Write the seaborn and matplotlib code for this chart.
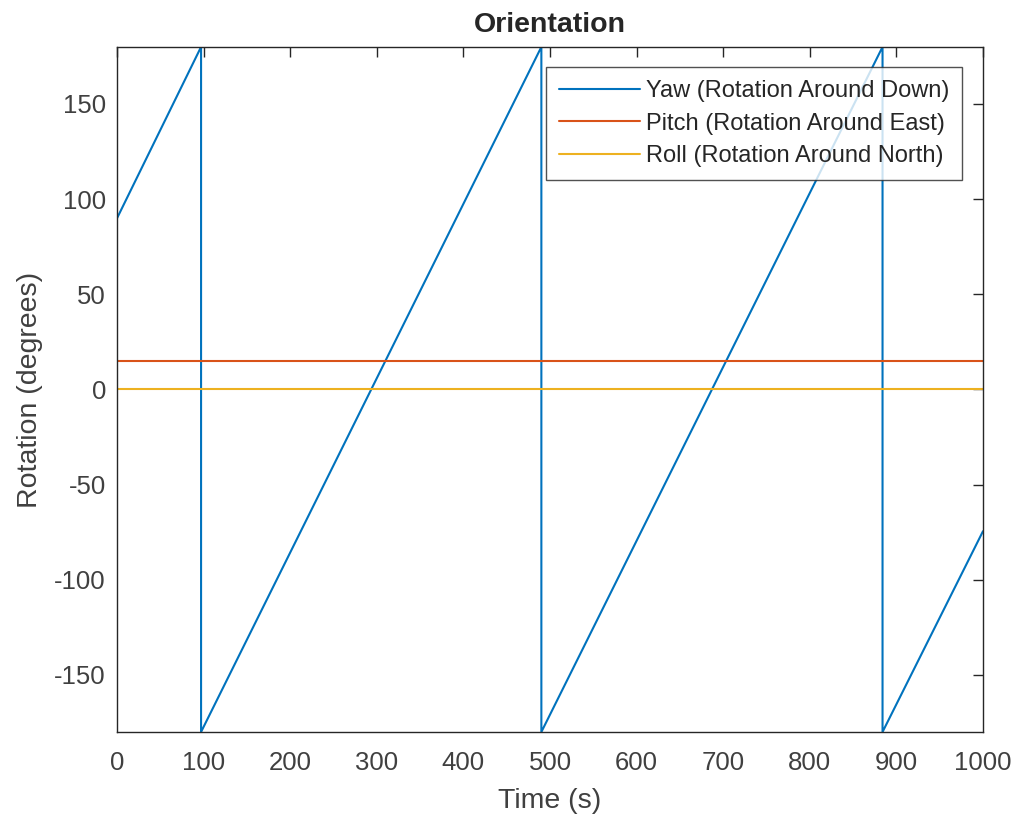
import numpy as np
import pandas as pd
import matplotlib
matplotlib.use("Agg")
import matplotlib.pyplot as plt
import seaborn as sns

# --- data ---
yaw_time = [0, 97, 97, 490, 490, 884, 884, 1000]
yaw_deg = [90, 180, -180, 180, -180, 180, -180, -74.5]
flat_time = [0, 1000]
pitch_deg = [15, 15]
roll_deg = [0, 0]

labels = ["Yaw (Rotation Around Down)",
          "Pitch (Rotation Around East)",
          "Roll (Rotation Around North)"]
colors = ["#0072BD", "#D95319", "#EDB120"]

sns.set_style("white")
plt.rcParams["font.family"] = ["Liberation Sans", "DejaVu Sans"]
plt.rcParams["axes.unicode_minus"] = False

fig = plt.figure(figsize=(10.18, 8.23), dpi=100)
ax = fig.add_axes([0.115, 0.1106, 0.8506, 0.8324])

series = [(yaw_time, yaw_deg), (flat_time, pitch_deg), (flat_time, roll_deg)]
for (t, v), lab, c in zip(series, labels, colors):
    df = pd.DataFrame({"t": t, "v": v})
    sns.lineplot(data=df, x="t", y="v", ax=ax, color=c, linewidth=1.5,
                 estimator=None, sort=False, label=lab)

ax.set_xlim(0, 1000)
ax.set_ylim(-180, 180)
ax.set_xticks(np.arange(0, 1001, 100))
ax.set_yticks([-150, -100, -50, 0, 50, 100, 150])

ax.tick_params(direction="in", length=7, width=1, colors="#262626",
               labelsize=18.5, top=True, right=True, labelcolor="#404040")
ax.tick_params(axis="x", pad=14)
ax.tick_params(axis="y", pad=8)
for s in ax.spines.values():
    s.set_color("#262626")
    s.set_linewidth(1)

ax.set_xlabel("Time (s)", fontsize=20.5, color="#404040", labelpad=9)
ax.set_ylabel("Rotation (degrees)", fontsize=20.5, color="#404040", labelpad=8)
ax.set_title("Orientation", fontsize=20.5, fontweight="bold", pad=11)

leg = ax.legend(loc="upper right", bbox_to_anchor=(0.9757, 0.9708),
                borderaxespad=0, fontsize=17, frameon=True, fancybox=False,
                handlelength=3.4, borderpad=0.55, labelspacing=0.45,
                handletextpad=0.25)
leg.get_frame().set_edgecolor("#262626")
leg.get_frame().set_linewidth(1)

fig.savefig("out.png", dpi=100)
